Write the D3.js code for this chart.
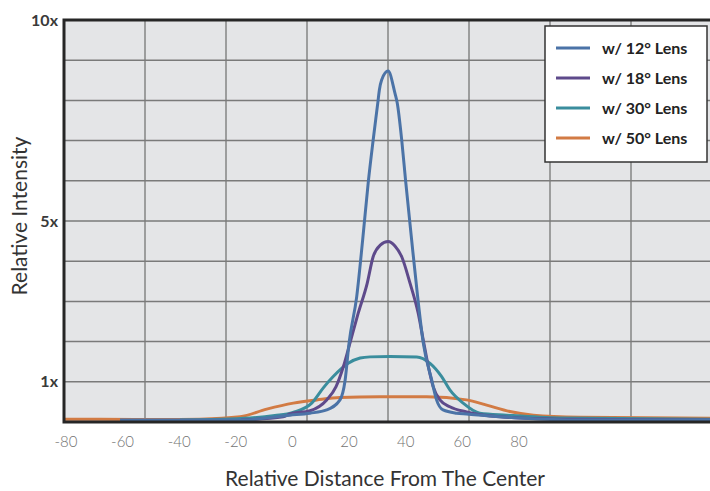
<!DOCTYPE html>
<html>
<head>
<meta charset="utf-8">
<script src="https://cdn.jsdelivr.net/npm/d3@7"></script>
<style>
  body { margin: 0; background: #fff; }
  text { font-family: Lato, "Open Sans", sans-serif; }
</style>
</head>
<body>
<svg id="chart"></svg>
<script>
const svgWidth = 710;
const svgHeight = 491;

// data (x = relative distance, y = relative intensity)
const lens12 = [[-60.9,0.05],[-18.2,0.05],[-0.9,0.17],[6.2,0.22],[12.1,0.3],[16.8,0.55],[18.6,1.04],[20.0,1.97],[22.7,3.12],[24.8,4.53],[26.8,5.98],[28.5,7.01],[30.2,7.97],[30.7,8.26],[31.5,8.51],[33.8,8.73],[36.2,8.18],[37.0,7.94],[38.6,7.01],[40.0,5.98],[42.1,4.53],[44.2,3.13],[46.2,1.97],[49.2,1.04],[50.9,0.55],[53.2,0.3],[58.0,0.22],[61.5,0.2],[80.4,0.1],[101.6,0.05],[148.2,0.05]];
const lens18 = [[-18.2,0.05],[-3.3,0.13],[-0.9,0.2],[6.2,0.28],[12.1,0.55],[15.4,0.88],[18.0,1.38],[20.6,2.04],[23.2,2.7],[26.4,3.45],[28.5,4.11],[31.0,4.4],[33.8,4.49],[36.2,4.38],[38.6,4.11],[41.5,3.46],[44.4,2.71],[46.2,2.04],[48.0,1.38],[49.7,0.88],[52.1,0.55],[55.6,0.38],[61.5,0.25],[73.3,0.13],[94.5,0.07],[148.2,0.05]];
const lens30 = [[-39.7,0.05],[-15.0,0.1],[-6.2,0.16],[0.2,0.24],[6.8,0.47],[10.9,0.85],[14.4,1.13],[19.7,1.46],[23.9,1.59],[27.4,1.62],[34.4,1.63],[43.9,1.62],[48.6,1.46],[52.7,1.13],[55.6,0.8],[60.3,0.47],[66.2,0.22],[75.7,0.17],[94.5,0.1],[148.2,0.07]];
const lens50 = [[-80.7,0.07],[-68.0,0.07],[-46.8,0.06],[-32.7,0.07],[-18.5,0.13],[-9.1,0.32],[0.3,0.47],[8.6,0.55],[16.8,0.61],[30.9,0.63],[47.4,0.63],[61.5,0.55],[68.6,0.42],[76.8,0.26],[85.1,0.17],[101.6,0.12],[148.2,0.09]];

const seriesNames = ["w/ 12\u00b0 Lens", "w/ 18\u00b0 Lens", "w/ 30\u00b0 Lens", "w/ 50\u00b0 Lens"];
const seriesColors = ["#4b73a7", "#5e4a8b", "#3a8d9d", "#d27b44"];
const seriesData = [lens12, lens18, lens30, lens50];

const xTicks = [-80, -60, -40, -20, 0, 20, 40, 60, 80];
const yTicks = [1, 5, 10];
const yTickLabels = ["1x", "5x", "10x"];

const margin = {top: 20, left: 64};
const plotW = 648;
const plotH = 402;

const svg = d3.select("#chart")
    .attr("width", svgWidth)
    .attr("height", svgHeight);

const x = d3.scaleLinear().domain([-80.7, 148.2]).range([margin.left, margin.left + plotW]);
const y = d3.scaleLinear().domain([0, 10]).range([margin.top + plotH, margin.top]);

// plot background
svg.append("rect")
    .attr("x", x.range()[0]).attr("y", y(10))
    .attr("width", plotW).attr("height", plotH)
    .attr("fill", "#e4e5e7");

// grid
const xd = x.domain();
const gridX = d3.range(1, 8).map(i => xd[0] + i * (xd[1] - xd[0]) / 8);
svg.append("g").selectAll("line")
    .data(gridX)
    .enter().append("line")
    .attr("x1", d => x(d)).attr("x2", d => x(d))
    .attr("y1", y(10)).attr("y2", y(0))
    .attr("stroke", "#858585").attr("stroke-width", 1.5);

svg.append("g").selectAll("line")
    .data(d3.range(1, 10))
    .enter().append("line")
    .attr("x1", x.range()[0]).attr("x2", x.range()[1])
    .attr("y1", d => y(d)).attr("y2", d => y(d))
    .attr("stroke", "#7a7a7a").attr("stroke-width", 1.5);

// curves
const line = d3.line()
    .x(d => x(d[0]))
    .y(d => y(d[1]))
    .curve(d3.curveMonotoneX);

svg.append("g").selectAll("path")
    .data(seriesData.slice().reverse())
    .enter().append("path")
    .attr("d", line)
    .attr("fill", "none")
    .attr("stroke", (d, i) => seriesColors[3 - i])
    .attr("stroke-width", 3)
    .attr("stroke-linejoin", "round");

// frame
svg.append("path")
    .attr("d", `M${x.range()[1] + 2},${y(10)} H${x.range()[0]} V${y(0)} H${x.range()[1] + 2}`)
    .attr("fill", "none")
    .attr("stroke", "#262626")
    .attr("stroke-width", 3);

// y tick labels
svg.append("g").selectAll("text")
    .data(yTicks)
    .enter().append("text")
    .attr("x", 58)
    .attr("y", d => y(d))
    .attr("dy", "0.35em")
    .attr("text-anchor", "end")
    .attr("font-size", 16)
    .attr("font-weight", "bold")
    .attr("fill", "#3a3a3a")
    .text((d, i) => yTickLabels[i]);

// x tick labels
svg.append("g").selectAll("text")
    .data(xTicks)
    .enter().append("text")
    .attr("x", d => x(d))
    .attr("y", 442)
    .attr("dy", "0.35em")
    .attr("text-anchor", "middle")
    .attr("font-size", 15)
    .attr("font-weight", 300)
    .attr("fill", "#727272")
    .text(d => d);

// axis titles
svg.append("text")
    .attr("x", 385).attr("y", 486)
    .attr("text-anchor", "middle")
    .attr("font-size", 21)
    .attr("fill", "#333")
    .text("Relative Distance From The Center");

svg.append("text")
    .attr("transform", "translate(27,216) rotate(-90)")
    .attr("text-anchor", "middle")
    .attr("font-size", 21)
    .attr("fill", "#333")
    .text("Relative Intensity");

// legend
const legend = svg.append("g");
legend.append("rect")
    .attr("x", 545).attr("y", 26)
    .attr("width", 162).attr("height", 136)
    .attr("fill", "#fff")
    .attr("stroke", "#333").attr("stroke-width", 1.5);

const items = legend.selectAll("g")
    .data(seriesNames)
    .enter().append("g")
    .attr("transform", (d, i) => `translate(0,${48 + i * 30})`);

items.append("line")
    .attr("x1", 556).attr("x2", 590)
    .attr("stroke", (d, i) => seriesColors[i])
    .attr("stroke-width", 3);

items.append("text")
    .attr("x", 602).attr("dy", "0.35em")
    .attr("font-size", 16)
    .attr("font-weight", "bold")
    .attr("fill", "#222")
    .text(d => d);
</script>
</body>
</html>
